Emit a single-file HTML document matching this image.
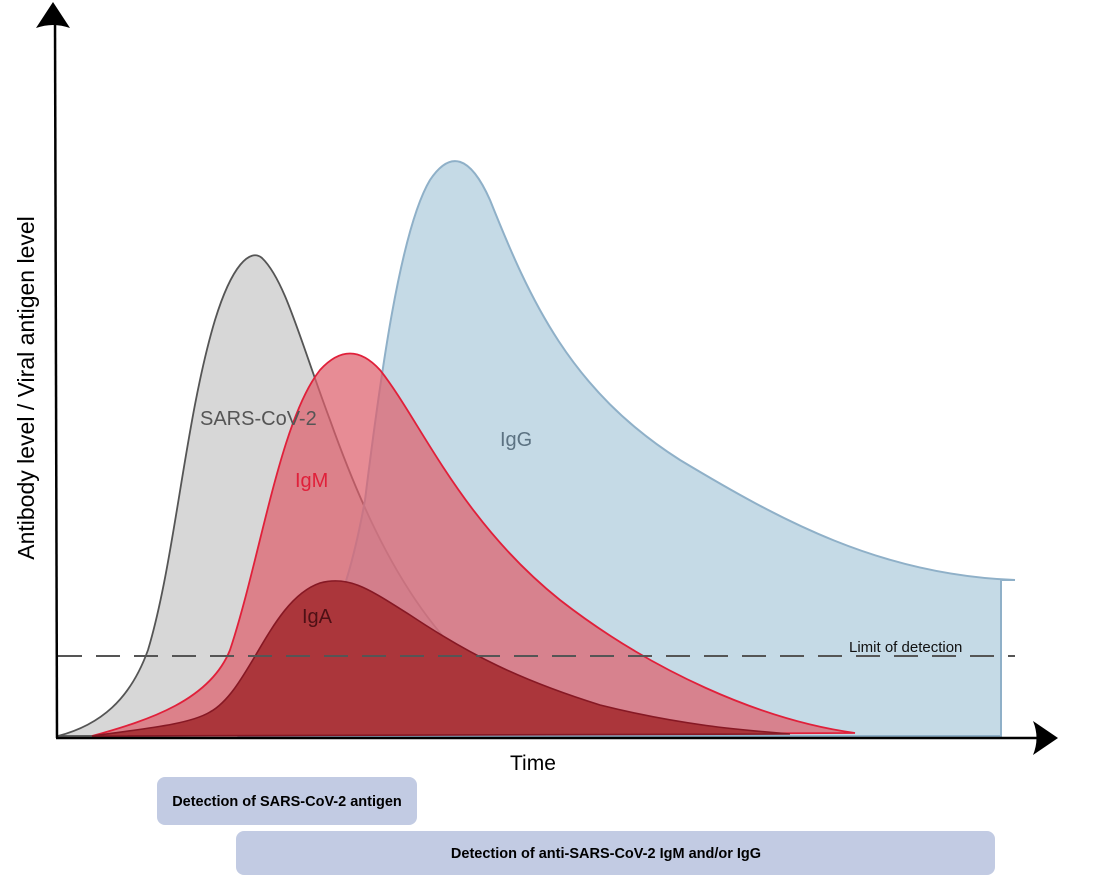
<!DOCTYPE html>
<html><head><meta charset="utf-8"><style>
body{margin:0;background:#fff;}
svg{display:block;font-family:"Liberation Sans",sans-serif;}
</style></head><body>
<svg width="1107" height="878" viewBox="0 0 1107 878">
<path d="M58,736 C100,725 130,700 148,650 C175,560 185,420 215,320 C232,265 250,248 262,258 C285,280 300,340 330,420 C380,560 450,700 600,735 Z" fill="#d7d7d7" stroke="#555" stroke-width="1.8"/>
<path d="M240,736 C300,690 340,640 365,500 C380,380 400,230 430,180 C450,150 470,155 490,200 C530,300 570,390 680,460 C780,520 880,575 1015,580 L1001,580 L1001,736 Z" fill="rgba(170,201,218,0.68)" stroke="#8fb0c8" stroke-width="2"/>
<path d="M92,736 C150,720 210,700 230,650 C260,560 280,420 320,370 C340,348 360,348 380,370 C420,420 460,520 560,600 C650,670 760,720 855,733 Z" fill="rgba(222,95,108,0.72)" stroke="#e0203a" stroke-width="1.8"/>
<path d="M92,736 C150,728 190,724 210,712 C250,690 270,600 320,583 C350,575 370,590 410,615 C470,655 520,680 600,705 C680,725 740,730 790,734 Z" fill="#ab363b" stroke="#861824" stroke-width="1.6"/>
<line x1="58" y1="656" x2="1015" y2="656" stroke="#555" stroke-width="2" stroke-dasharray="24,14"/>
<line x1="55" y1="20" x2="57" y2="738" stroke="#000" stroke-width="2.5"/>
<line x1="56" y1="738" x2="1040" y2="738" stroke="#000" stroke-width="2.5"/>
<path d="M53,2 L70,28 Q53,22 36,28 Z" fill="#000"/>
<path d="M1058,738 L1033,721 Q1040,738 1033,755 Z" fill="#000"/>
<text x="200" y="425" font-size="20" fill="#555">SARS-CoV-2</text>
<text x="295" y="487" font-size="20" fill="#e0203a">IgM</text>
<text x="500" y="446" font-size="20" fill="#5c7282">IgG</text>
<text x="302" y="623" font-size="20" fill="#4e1015">IgA</text>
<text x="849" y="652" font-size="15" fill="#111">Limit of detection</text>
<text x="510" y="770" font-size="21" fill="#000">Time</text>
<text transform="translate(34,388) rotate(-90)" text-anchor="middle" font-size="23" fill="#000">Antibody level / Viral antigen level</text>
<rect x="157" y="777" width="260" height="48" rx="8" fill="#c2cbe3"/>
<text x="287" y="806" text-anchor="middle" font-size="14.5" font-weight="bold" fill="#000">Detection of SARS-CoV-2 antigen</text>
<rect x="236" y="831" width="759" height="44" rx="8" fill="#c2cbe3"/>
<text x="606" y="858" text-anchor="middle" font-size="14.5" font-weight="bold" fill="#000">Detection of anti-SARS-CoV-2 IgM and/or IgG</text>
</svg>
</body></html>
